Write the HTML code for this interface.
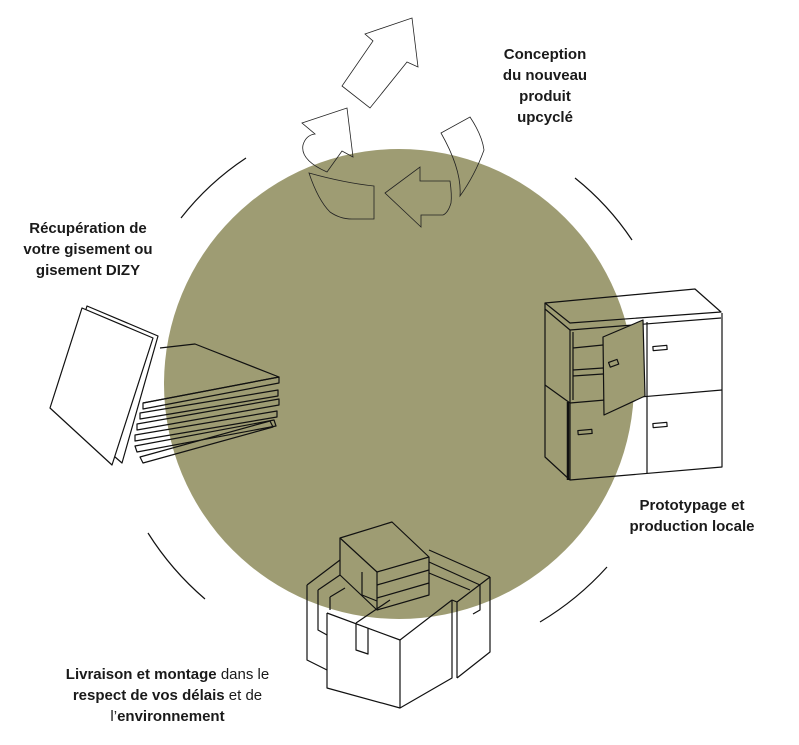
<!DOCTYPE html>
<html><head><meta charset="utf-8"><style>
html,body{margin:0;padding:0;background:#fff;}
body{width:799px;height:745px;position:relative;overflow:hidden;font-family:"Liberation Sans",sans-serif;color:#1a1a1a;}
.t{position:absolute;text-align:center;font-size:15px;line-height:21px;font-weight:bold;white-space:nowrap;}
.n{font-weight:normal;}
svg{position:absolute;left:0;top:0;}
</style></head><body>
<svg width="799" height="745" viewBox="0 0 799 745">
<circle cx="399" cy="384" r="235" fill="#9e9c73"/>
<g fill="none" stroke="#111" stroke-width="1.2">
<path d="M181 218 A274 274 0 0 1 246 158"/>
<path d="M575 178 A274 274 0 0 1 632 240"/>
<path d="M148 533 A290 290 0 0 0 205 599"/>
<path d="M607 567 A290 290 0 0 1 540 622"/>
</g>
<g fill="none" stroke="#222" stroke-width="0.8">
<path d="M365 34 L412 18 L418 67 L407 62 L370 108 L342 86 L373 41 Z"/>
<path d="M302 123 L347 108 L353 157 L342 151 L327 172 Q300 160 303 145 Q306 135 315 134 Z"/>
<path d="M309 173 Q318 200 330 212 Q340 219 352 219 L374 219 L374 186 Q345 183 309 173 Z"/>
<path d="M385 193 L420 167 L420 181 L450 181 Q452 195 451 203 Q448 213 443 215 L421 215 L421 227 Z"/>
<path d="M441 133 L470 117 Q482 135 484 150 Q475 175 460 196 Q462 170 441 133 Z"/>
</g>
<g fill="none" stroke="#111" stroke-width="1.2" stroke-linejoin="round">
<!-- panels stack -->
<path d="M160 348 L195 344 L279 377 L143 403"/>
<path d="M143 403 L279 377 L279 383 L143 409 Z"/>
<path d="M140 413 L278 390 L278 396 L140 419 Z"/>
<path d="M137 424 L279 399 L279 405 L137 430 Z"/>
<path d="M135 435 L277 411 L277 417 L135 441 Z"/>
<path d="M135 446 L274 420 L276 426 L137 452 Z"/>
<path d="M140 457 L270 421 L273 427 L143 463 Z"/>
<!-- front panels -->
<path d="M87 306 L158 336 L122 463 L56 406 Z" fill="#fff"/>
<path d="M82 308 L153 338 L112 465 L50 408 Z" fill="#fff"/>
<!-- cabinet -->
<path d="M545 303 L695 289 L721 312 L570 323 Z"/>
<path d="M545 303 L545 309 L570 330 L721 318"/>
<path d="M545 309 L545 457 L570 480 L722 467 L722 313"/>
<path d="M570 330 L570 480"/>
<path d="M647 322 L647 473"/>
<path d="M570 403 L722 390 M545 385 L570 403"/>
<path d="M573 332 L573 400 M573 348 L603 345 M573 370 L603 368 M573 376 L603 374"/>
<path d="M603 337 L643 320 L645 396 L604 415 Z" fill="#9e9c73"/>
<path d="M568 402 L568 480" stroke-width="2.5"/>
<rect x="609" y="361" width="9" height="5" transform="rotate(-20 613 363)"/>
<rect x="653" y="346" width="14" height="4" transform="rotate(-5 660 348)"/>
<rect x="653" y="423" width="14" height="4" transform="rotate(-5 660 425)"/>
<rect x="578" y="430" width="14" height="4" transform="rotate(-5 585 432)"/>
<!-- boxes -->
<path d="M307 585 L340 560 M307 585 L307 660 L327 670"/>
<path d="M318 590 L318 630 L327 635 M330 597 L330 610 M318 590 L340 575 M330 597 L345 588"/>
<path d="M490 577 L490 652 L457 678 M490 577 L429 550 M457 602 L490 577 M452 600 L457 602 L457 678 M480 585 L480 610 L473 614 M429 562 L480 585 M429 573 L470 590"/>
<path d="M327 613 L400 640 L452 600 M327 613 L327 688 L400 708 L452 678 L452 600"/>
<path d="M400 640 L400 708"/>
<path d="M356 623 L356 650 L368 654 L368 628 M356 623 L390 600"/>
<path d="M340 538 L392 522 L429 557 L377 572 Z"/>
<path d="M340 538 L340 575 L377 610 L429 595 L429 557 M377 572 L377 610"/>
<path d="M377 585 L429 570 M377 598 L429 583"/>
<path d="M362 572 L362 595 L377 601"/>
</g>
</svg>
<div class="t" style="left:475px;top:44px;width:140px;">Conception<br>du nouveau<br>produit<br>upcyclé</div>
<div class="t" style="left:8px;top:218px;width:160px;">Récupération de<br>votre gisement ou<br>gisement DIZY</div>
<div class="t" style="left:612px;top:495px;width:160px;">Prototypage et<br>production locale</div>
<div class="t" style="left:30px;top:664px;width:275px;">Livraison et montage <span class="n">dans le</span><br>respect de vos délais <span class="n">et de</span><br><span class="n">l’</span>environnement</div>
</body></html>
